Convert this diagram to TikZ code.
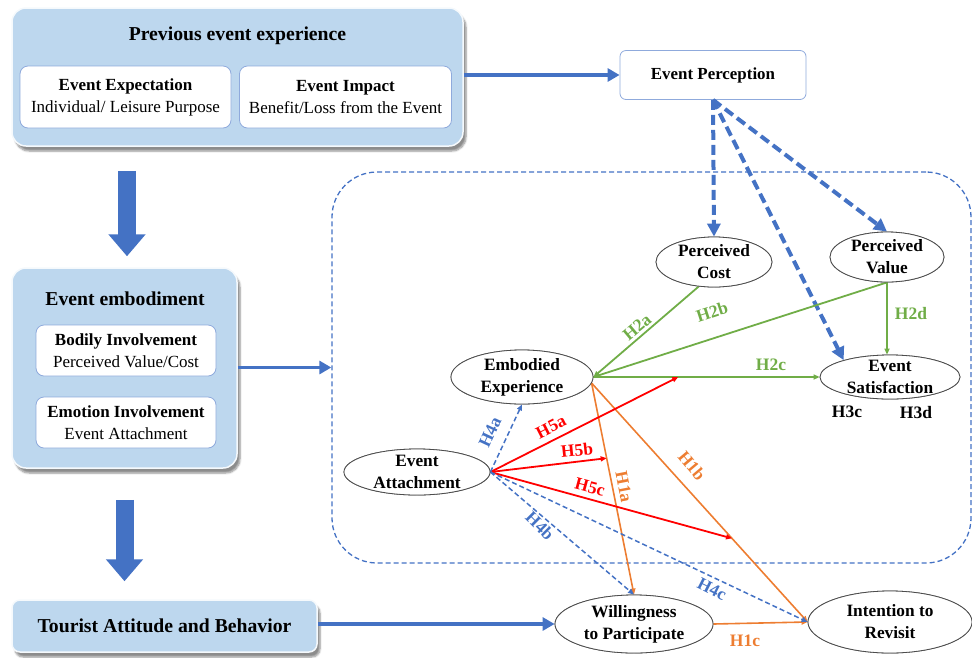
\documentclass[tikz,border=0pt]{standalone}
\usepackage{fontspec}
\setmainfont{Liberation Serif}
\usetikzlibrary{arrows.meta,shapes.geometric,shadows.blur,calc}
\definecolor{pblue}{HTML}{4472C4}
\definecolor{lblue}{HTML}{BDD7EE}
\definecolor{bordblue}{HTML}{8FAADC}
\definecolor{pgreen}{HTML}{70AD47}
\definecolor{porange}{HTML}{ED7D31}
\definecolor{pred}{HTML}{FF0000}
\begin{document}
\begin{tikzpicture}[x=1pt,y=-1pt,
  outerbox/.style={fill=lblue, draw=white!85!lblue, line width=1.5pt, rounded corners=14pt,
    blur shadow={shadow xshift=3pt, shadow yshift=-5pt, shadow blur steps=6, shadow opacity=45}},
  innerbox/.style={fill=white, draw=bordblue, line width=0.8pt, rounded corners=8pt, align=center,
    font=\fontsize{17}{22}\selectfont, inner sep=0pt},
  titletext/.style={font=\bfseries\fontsize{19.7}{24}\selectfont, inner sep=0pt},
  ell/.style={ellipse, draw=black!70, line width=0.8pt, fill=white, inner sep=0pt},
  elltext/.style={align=center, font=\bfseries\fontsize{17.3}{22}\selectfont, inner sep=0pt},
  hlab/.style={font=\bfseries\fontsize{17.5}{20}\selectfont, inner sep=0pt},
  region/.style={draw=pblue, dash pattern=on 5pt off 3pt, line width=1.3pt, rounded corners=45pt},
  bigarrow/.style={draw=pblue, line width=3.5pt, -{Triangle[length=12pt,width=13pt]}},
  blockarrow/.style={draw=pblue, line width=18pt, -{Triangle[length=22pt,width=36pt]}},
  dasharrow/.style={draw=pblue, line width=4pt, dash pattern=on 10pt off 5pt, -{Triangle[length=13pt,width=13pt]}},
  garrow/.style={draw=pgreen, line width=1.8pt, -{Triangle[length=6pt,width=5pt]}},
  rarrow/.style={draw=pred, line width=1.8pt, -{Triangle[length=6pt,width=5pt]}},
  oarrow/.style={draw=porange, line width=1.6pt, -{Triangle[length=6pt,width=5pt]}},
  barrow/.style={draw=pblue, line width=1.5pt, dash pattern=on 5pt off 3pt, -{Triangle[length=6pt,width=5pt]}}
]
\useasboundingbox (0,0) rectangle (972,657);

% left column boxes
\node[outerbox, minimum width=451pt, minimum height=138pt] (top) at (237.5,77) {};
\node[titletext] (toptitle) at (237.5,36) {Previous event experience};
\node[innerbox, minimum width=211pt, minimum height=62pt] (ib1) at (125.5,97)
  {\textbf{Event Expectation}\\Individual/ Leisure Purpose};
\node[innerbox, minimum width=212pt, minimum height=62pt] (ib2) at (345.5,97)
  {\textbf{Event Impact}\\Benefit/Loss from the Event};

\node[outerbox, minimum width=225pt, minimum height=200pt] (mid) at (124.5,368) {};
\node[titletext] (midtitle) at (125,299) {Event embodiment};
\node[innerbox, minimum width=180pt, minimum height=51pt] (ib3) at (126,350.5)
  {\textbf{Bodily Involvement}\\Perceived Value/Cost};
\node[innerbox, minimum width=180pt, minimum height=51pt] (ib4) at (126,422.5)
  {\textbf{Emotion Involvement}\\Event Attachment};

\node[outerbox, rounded corners=8pt, minimum width=305pt, minimum height=52pt, titletext,
  font=\bfseries\fontsize{19.7}{22}\selectfont] (tab) at (164.5,626) {Tourist Attitude and Behavior};

% block arrows
\coordinate (ba1) at (127,0);
\coordinate (ba2) at (124.5,0);
\draw[blockarrow, shorten <=24pt, shorten >=11pt] (top.south -| ba1) -- (mid.north -| ba1);
\draw[blockarrow, shorten <=31pt, shorten >=18pt] (mid.south -| ba2) -- (tab.north -| ba2);

% region
\node[region, minimum width=639pt, minimum height=391pt] (reg) at (651.5,367.5) {};

% event perception
\node[fill=white, draw=bordblue, line width=0.8pt, rounded corners=6pt, minimum width=186pt,
  minimum height=49pt, font=\bfseries\fontsize{16.9}{20}\selectfont] (EP) at (713,75) {Event Perception};

% ellipses (coordinates)
\node[ell, minimum width=116pt, minimum height=50pt] (PC) at (714,262) {};
\node[ell, minimum width=114pt, minimum height=50pt] (PV) at (887,257) {};
\node[ell, minimum width=142pt, minimum height=54pt] (EE) at (522,377) {};
\node[ell, minimum width=140pt, minimum height=44pt] (ES) at (890,377) {};
\node[ell, minimum width=146pt, minimum height=46pt] (EA) at (417,472) {};
\node[ell, minimum width=158pt, minimum height=58pt] (WP) at (634,624) {};
\node[ell, minimum width=164pt, minimum height=62pt] (IR) at (890,622) {};

% big blue arrows
\draw[bigarrow] (top.east |- EP.west) -- (EP.west);
\draw[bigarrow] (mid.east |- reg.west) -- (reg.west);
\draw[bigarrow] (tab.east |- WP.west) -- (WP.west);

% dashed arrows from event perception
\draw[dasharrow] (EP.south) -- (PC.north);
\draw[dasharrow] (EP.south) -- (ES.160);
\draw[dasharrow] (EP.south) -- (PV.north);

% green
\draw[garrow] (PC.-122) -- (EE.east);
\draw[garrow] (PV.south) -- (EE.east);
\draw[garrow] (EE.east) -- (ES.west);
\draw[garrow] (PV.south) -- (PV.south |- ES.north);

% orange
\coordinate (h1s) at (EE.-5);
\draw[oarrow] (h1s) -- (WP.north);
\draw[oarrow] (h1s) -- (IR.west);
\draw[oarrow] (WP.east) -- (IR.west);

% red
\coordinate (m5a) at ($(EE.east)!0.375!(ES.west)$);
\coordinate (m5b) at ($(h1s)!0.355!(WP.north)$);
\coordinate (m5c) at ($(h1s)!0.65!(IR.west)$);
\draw[rarrow] (EA.east) -- (m5a);
\draw[rarrow] (EA.east) -- (m5b);
\draw[rarrow] (EA.east) -- (m5c);

% blue dashed
\draw[barrow] (EA.east) -- (EE.south);
\draw[barrow] (EA.east) -- (WP.north);
\draw[barrow] (EA.east) -- (IR.west);

% redraw ellipses on top with texts
\node[ell, minimum width=116pt, minimum height=50pt, label={[elltext]center:Perceived\\Cost}] (PCt) at (714,262) {};
\node[ell, minimum width=114pt, minimum height=50pt, label={[elltext]center:Perceived\\Value}] (PVt) at (887,257) {};
\node[ell, minimum width=142pt, minimum height=54pt, label={[elltext]center:Embodied\\Experience}] (EEt) at (522,377) {};
\node[ell, minimum width=140pt, minimum height=44pt, label={[elltext]center:Event\\Satisfaction}] (ESt) at (890,377) {};
\node[ell, minimum width=146pt, minimum height=46pt, label={[elltext]center:Event\\Attachment}] (EAt) at (417,472) {};
\node[ell, minimum width=158pt, minimum height=58pt, label={[elltext]center:Willingness\\to Participate}] (WPt) at (634,624) {};
\node[ell, minimum width=164pt, minimum height=62pt, label={[elltext]center:Intention to\\Revisit}] (IRt) at (890,622) {};

% hypothesis labels
\node[hlab, text=pgreen, rotate=40] (lH2a) at (637,327) {H2a};
\node[hlab, text=pgreen, rotate=18] (lH2b) at (712,312) {H2b};
\node[hlab, text=pgreen] (lH2c) at (771,365) {H2c};
\node[hlab, text=pgreen] (lH2d) at (911,314) {H2d};
\node[hlab] (lH3c) at (847,412) {H3c};
\node[hlab] (lH3d) at (916,413) {H3d};
\node[hlab, text=pred, rotate=27] (lH5a) at (551,427) {H5a};
\node[hlab, text=pred, rotate=6] (lH5b) at (577,450) {H5b};
\node[hlab, text=pred, rotate=-15] (lH5c) at (590,487) {H5c};
\node[hlab, text=porange, rotate=-79] (lH1a) at (624,487) {H1a};
\node[hlab, text=porange, rotate=-50] (lH1b) at (692,466) {H1b};
\node[hlab, text=porange] (lH1c) at (745,641) {H1c};
\node[hlab, text=pblue, rotate=65] (lH4a) at (490,432) {H4a};
\node[hlab, text=pblue, rotate=-45] (lH4b) at (540,526) {H4b};
\node[hlab, text=pblue, rotate=-27] (lH4c) at (712,589) {H4c};
\end{tikzpicture}
\end{document}
